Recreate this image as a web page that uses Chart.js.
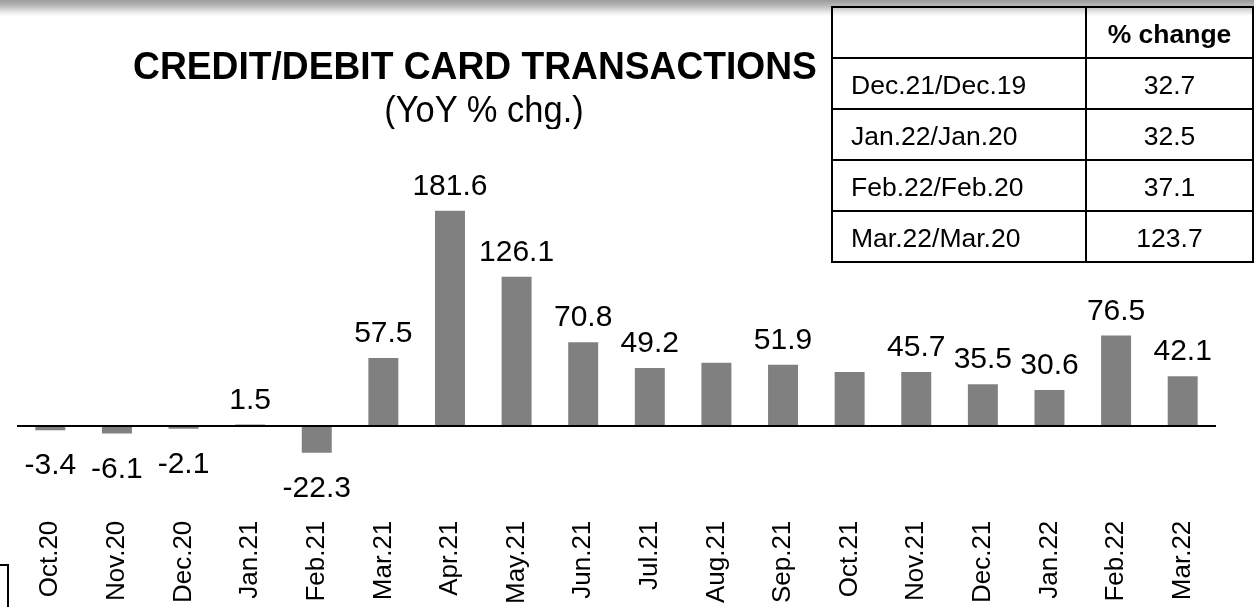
<!DOCTYPE html>
<html>
<head>
  <title>Credit/Debit Card Transactions</title>
  <script src="https://cdn.jsdelivr.net/npm/chart.js"></script>
  <style>
    body {
      margin: 0;
      background: #fff;
      font-family: "Liberation Sans", Arial, sans-serif;
      color: #000;
    }

    .page {
      position: relative;
      width: 1254px;
      height: 607px;
      overflow: hidden;
    }

    .topband {
      position: absolute;
      left: 0; top: 0;
      width: 1254px;
      height: 16px;
      background: linear-gradient(to bottom, #9c9c9c 0%, #b8b8b8 35%, #e2e2e2 70%, #fff 100%);
    }

    #chart {
      position: absolute;
      left: 0; top: 0;
    }

    .title {
      position: absolute;
      left: 475px;
      top: 47px;
      transform: translateX(-50%) scaleY(1.05);
      white-space: nowrap;
      font-weight: bold;
      font-size: 37.2px;
      line-height: 37px;
    }

    .subtitle {
      position: absolute;
      left: 484px;
      top: 92px;
      transform: translateX(-50%) scaleY(1.05);
      white-space: nowrap;
      font-size: 34.5px;
      line-height: 34px;
    }

    table {
      position: absolute;
      left: 831px;
      top: 6px;
      border-collapse: collapse;
      font-size: 26.5px;
    }

    td {
      border: 2px solid #000;
      height: 46px;
      padding: 3px 0 0 0;
      vertical-align: middle;
      line-height: 26px;
    }

    td.name {
      width: 238px;
      padding-left: 18px;
    }

    td.val {
      width: 170px;
      text-align: center;
    }

    td.head {
      font-weight: bold;
    }

    .bracket {
      position: absolute;
      left: 0;
      top: 564px;
      width: 7px;
      height: 60px;
      border-top: 2px solid #000;
      border-right: 2px solid #000;
    }
  </style>
</head>
<body>
  <div class="page">
    <div class="topband"></div>
    <canvas id="chart" width="1254" height="607"></canvas>
    <div class="title">CREDIT/DEBIT CARD TRANSACTIONS</div>
    <div class="subtitle">(YoY % chg.)</div>
    <table id="tbl"></table>
    <div class="bracket"></div>
  </div>

  <script>
    const months = ['Oct.20', 'Nov.20', 'Dec.20', 'Jan.21', 'Feb.21', 'Mar.21', 'Apr.21', 'May.21', 'Jun.21',
                    'Jul.21', 'Aug.21', 'Sep.21', 'Oct.21', 'Nov.21', 'Dec.21', 'Jan.22', 'Feb.22', 'Mar.22'];
    const yoyChange = [-3.4, -6.1, -2.1, 1.5, -22.3, 57.5, 181.6, 126.1, 70.8,
                       49.2, 53.6, 51.9, 45.7, 45.7, 35.5, 30.6, 76.5, 42.1];
    // bars without a printed value are null here
    const barLabels = ['-3.4', '-6.1', '-2.1', '1.5', '-22.3', '57.5', '181.6', '126.1', '70.8',
                       '49.2', null, '51.9', null, '45.7', '35.5', '30.6', '76.5', '42.1'];

    const tablePeriods = ['Dec.21/Dec.19', 'Jan.22/Jan.20', 'Feb.22/Feb.20', 'Mar.22/Mar.20'];
    const tableChange = ['32.7', '32.5', '37.1', '123.7'];

    // table in the top right corner
    const tbl = document.getElementById('tbl');
    let rows = '<tr><td class="name"></td><td class="val head">% change</td></tr>';
    tablePeriods.forEach((p, i) => {
      rows += '<tr><td class="name">' + p + '</td><td class="val">' + tableChange[i] + '</td></tr>';
    });
    tbl.innerHTML = rows;

    const FONT = '"Liberation Sans", Arial, sans-serif';

    const zeroLine = {
      id: 'zeroLine',
      afterDatasetsDraw(chart) {
        const { ctx, chartArea, scales } = chart;
        const y = Math.round(scales.y.getPixelForValue(0));
        ctx.save();
        ctx.strokeStyle = '#000';
        ctx.lineWidth = 2;
        ctx.beginPath();
        ctx.moveTo(chartArea.left, y);
        ctx.lineTo(chartArea.right, y);
        ctx.stroke();
        ctx.restore();
      }
    };

    const valueLabels = {
      id: 'valueLabels',
      afterDraw(chart) {
        const ctx = chart.ctx;
        const meta = chart.getDatasetMeta(0);
        ctx.save();
        ctx.font = '30px ' + FONT;
        ctx.fillStyle = '#000';
        ctx.textAlign = 'center';
        ctx.textBaseline = 'alphabetic';
        meta.data.forEach((bar, i) => {
          if (!barLabels[i]) return;
          const y = yoyChange[i] >= 0 ? bar.y - 16 : bar.y + 44;
          ctx.fillText(barLabels[i], bar.x, y);
        });
        ctx.restore();
      }
    };

    new Chart(document.getElementById('chart'), {
      type: 'bar',
      data: {
        labels: months,
        datasets: [{
          data: yoyChange,
          backgroundColor: '#808080',
          borderWidth: 0,
          barPercentage: 0.45,
          categoryPercentage: 1
        }]
      },
      options: {
        responsive: false,
        animation: false,
        layout: { padding: { top: 189, left: 17, right: 38, bottom: 0 } },
        plugins: {
          legend: { display: false },
          tooltip: { enabled: false }
        },
        scales: {
          x: {
            offset: true,
            grid: { display: false, drawTicks: false },
            border: { display: false },
            ticks: {
              autoSkip: false,
              minRotation: 90,
              maxRotation: 90,
              padding: 3,
              color: '#000',
              font: { family: FONT, size: 26 }
            }
          },
          y: {
            display: false,
            min: -77,
            max: 200
          }
        }
      },
      plugins: [zeroLine, valueLabels]
    });
  </script>
</body>
</html>
